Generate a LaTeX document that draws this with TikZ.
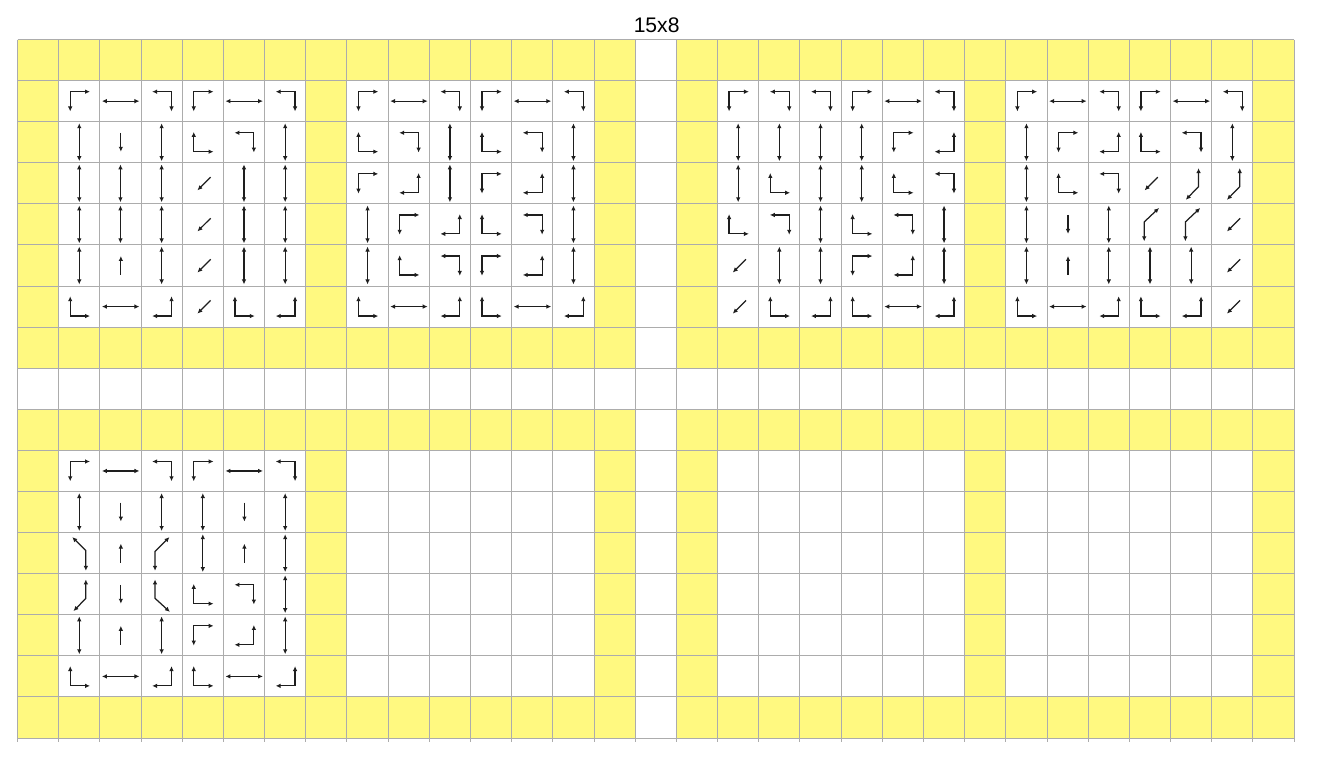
\documentclass[tikz,border=0pt]{standalone}
\usepackage{fontspec}
\setmainfont{Liberation Sans}
\usetikzlibrary{arrows.meta}
\definecolor{yel}{RGB}{255,249,128}
\definecolor{gridc}{RGB}{172,172,172}
\definecolor{ink}{RGB}{30,30,30}
\tikzset{
  glyph/.style={draw=ink,line width=0.7pt,line join=miter},
  tipb/.style={glyph,{Latex[length=2.8pt,width=2.6pt]}-{Latex[length=2.8pt,width=2.6pt]}},
  tipe/.style={glyph,-{Latex[length=2.8pt,width=2.6pt]}},
  gridline/.style={draw=gridc,line width=0.6pt}
}
\newcommand\glDR{\draw[tipb] (0.76,0.27) -- (0.28,0.27) -- (0.28,0.75);}
\newcommand\glDL{\draw[tipb] (0.27,0.27) -- (0.74,0.27) -- (0.74,0.75);}
\newcommand\glUR{\draw[tipb] (0.28,0.25) -- (0.28,0.73) -- (0.76,0.73);}
\newcommand\glUL{\draw[tipb] (0.74,0.25) -- (0.74,0.73) -- (0.27,0.73);}
\newcommand\glH{\draw[tipb] (0.05,0.5) -- (0.96,0.5);}
\newcommand\glV{\draw[tipb] (0.5,0.04) -- (0.5,0.96);}
\newcommand\gld{\draw[tipe] (0.51,0.27) -- (0.51,0.73);}
\newcommand\glu{\draw[tipe] (0.51,0.73) -- (0.51,0.27);}
\newcommand\glSW{\draw[tipe] (0.69,0.35) -- (0.37,0.67);}
\newcommand\glBi{\draw[tipb] (0.68,0.13) -- (0.68,0.58) -- (0.37,0.90);}
\newcommand\glBii{\draw[tipb] (0.36,0.91) -- (0.36,0.44) -- (0.72,0.10);}
\newcommand\glBA{\draw[tipb] (0.33,0.11) -- (0.66,0.44) -- (0.66,0.93);}
\newcommand\glBB{\draw[tipb] (0.69,0.11) -- (0.34,0.46) -- (0.34,0.93);}
\newcommand\glBC{\draw[tipb] (0.66,0.14) -- (0.66,0.60) -- (0.36,0.91);}
\newcommand\glBD{\draw[tipb] (0.34,0.14) -- (0.34,0.60) -- (0.70,0.93);}
\newcommand\drawblock[3]{%
  \foreach \t [count=\i from 0] in {#3} {%
    \pgfmathtruncatemacro\cc{#1+mod(\i,6)}%
    \pgfmathtruncatemacro\rr{#2+div(\i,6)}%
    \begin{scope}[shift={(\cc,\rr)}]\csname gl\t\endcsname\end{scope}%
  }%
}
\begin{document}
\begin{tikzpicture}[x=0.8236cm,y=-0.8218cm]
\useasboundingbox (-0.425,-0.9613) rectangle (31.629,17.632);
\foreach \qx in {0,16} {\foreach \qy in {0,9} {
  \fill[yel] (\qx,\qy) rectangle ++(15,8);
  \fill[white] (\qx+1,\qy+1) rectangle ++(6,6);
  \fill[white] (\qx+8,\qy+1) rectangle ++(6,6);
}}
\foreach \x in {0,...,31} {\draw[gridline] (\x,0) -- (\x,17.1);}
\foreach \y in {0,...,17} {\draw[gridline] (0,\y) -- (31,\y);}
\node (title) at (15.52,-0.353) {\fontsize{12}{14}\selectfont 15x8};
\drawblock{1}{1}{DR,H,DL,DR,H,DL,V,d,V,UR,DL,V,V,V,V,SW,V,V,V,V,V,SW,V,V,V,u,V,SW,V,V,UR,H,UL,SW,UR,UL}
\drawblock{8}{1}{DR,H,DL,DR,H,DL,UR,DL,V,UR,DL,V,DR,UL,V,DR,UL,V,V,DR,UL,UR,DL,V,V,UR,DL,DR,UL,V,UR,H,UL,UR,H,UL}
\drawblock{17}{1}{DR,DL,DL,DR,H,DL,V,V,V,V,DR,UL,V,UR,V,V,UR,DL,UR,DL,V,UR,DL,V,SW,V,V,DR,UL,V,SW,UR,UL,UR,H,UL}
\drawblock{24}{1}{DR,H,DL,DR,H,DL,V,DR,UL,UR,DL,V,V,UR,DL,SW,Bi,Bi,V,d,V,Bii,Bii,SW,V,u,V,V,V,SW,UR,H,UL,UR,UL,SW}
\drawblock{1}{10}{DR,H,DL,DR,H,DL,V,d,V,V,d,V,BA,u,BB,V,u,V,BC,d,BD,UR,DL,V,V,u,V,DR,UL,V,UR,H,UL,UR,H,UL}
\end{tikzpicture}
\end{document}
